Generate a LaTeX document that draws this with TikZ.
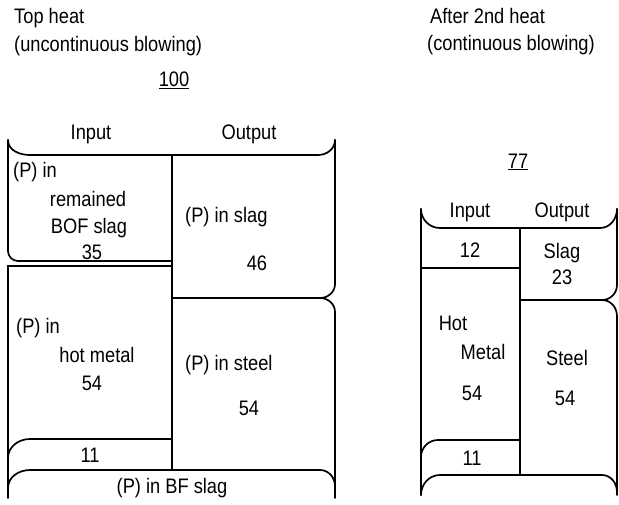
\documentclass[tikz,border=0pt]{standalone}
\usepackage{fontspec}
\setmainfont{Liberation Sans}[FakeStretch=0.87]

\tikzset{
	lbl/.style={font=\fontsize{21}{23}\selectfont, inner sep=0pt},
	frame/.style={line width=1.7pt, line cap=round}
}

\begin{document}
\begin{tikzpicture}[x=1pt, y=-1pt]
			\useasboundingbox (0,0) rectangle (619,504);

			\node[lbl, anchor=west] (tophd) at (14,18) {Top heat};
			\node[lbl, anchor=west] (topbl) at (14,46) {(uncontinuous blowing)};
			\node[lbl] (topval) at (174,80) {\underline{100}};
			\node[lbl] (lin) at (91,134) {Input};
			\node[lbl] (lout) at (249,134) {Output};
			\node[lbl, anchor=west] (bof1) at (13,172) {(P) in};
			\node[lbl] (bof2) at (88,199) {remained};
			\node[lbl] (bof3) at (89,228) {BOF slag};
			\node[lbl] (bof4) at (92,252) {35};
			\node[lbl, anchor=west] (lslag) at (185,217) {(P) in slag};
			\node[lbl] (lslagv) at (257,263) {46};
			\node[lbl, anchor=west] (hm1) at (16,328) {(P) in};
			\node[lbl] (hm2) at (97,355) {hot metal};
			\node[lbl] (hm3) at (92,383) {54};
			\node[lbl, anchor=west] (lsteel) at (185,365) {(P) in steel};
			\node[lbl] (lsteelv) at (249,408) {54};
			\node[lbl] (lbf) at (90,455) {11};
			\node[lbl] (lbfname) at (172,488) {(P) in BF slag};

			\node[lbl, anchor=west] (afthd) at (430,16) {After 2nd heat};
			\node[lbl, anchor=west] (aftbl) at (427,45) {(continuous blowing)};
			\node[lbl] (aftval) at (518,162) {\underline{77}};
			\node[lbl] (rin) at (470,212) {Input};
			\node[lbl] (rout) at (562,212) {Output};
			\node[lbl] (rin1) at (470,250) {12};
			\node[lbl] (rslag) at (562,253) {Slag};
			\node[lbl] (rslagv) at (562,277) {23};
			\node[lbl] (rhm1) at (453,323) {Hot};
			\node[lbl] (rhm2) at (483,352) {Metal};
			\node[lbl] (rhm3) at (472,393) {54};
			\node[lbl] (rsteel) at (567,358) {Steel};
			\node[lbl] (rsteelv) at (565,398) {54};
			\node[lbl] (rbf) at (472,458) {11};

			\draw[frame] (8,140) to[out=-90, in=180] (30,155) -- (318,155) to[out=0, in=-90] (335,140);
			\draw[frame, rounded corners=10pt] (8,140) -- (8,261) -- (172,261);
			\draw[frame] (172,266) -- (8,266) -- (8,498);
			\draw[frame] (172,155) -- (172,470);
			\draw[frame] (172,298) -- (320,298) to[out=0, in=-90] (335,284);
			\draw[frame] (320,298) to[out=0, in=90] (335,312);
			\draw[frame] (335,140) -- (335,284);
			\draw[frame] (335,312) -- (335,498);
			\draw[frame] (8,458) to[out=90, in=180] (30,439) -- (172,439);
			\draw[frame] (8,488) to[out=90, in=180] (30,470) -- (320,470) to[out=0, in=90] (335,486);

			\draw[frame] (421,209) to[out=-90, in=180] (440,228) -- (600,228) to[out=0, in=-90] (617,209);
			\draw[frame] (421,209) -- (421,495);
			\draw[frame] (520,228) -- (520,475);
			\draw[frame] (421,268) -- (520,268);
			\draw[frame] (520,300) -- (602,300) to[out=0, in=-90] (617,285);
			\draw[frame] (602,300) to[out=0, in=90] (617,316);
			\draw[frame] (617,209) -- (617,285);
			\draw[frame] (617,316) -- (617,495);
			\draw[frame] (421,457) to[out=90, in=180] (438,440) -- (520,440);
			\draw[frame] (421,495) to[out=90, in=180] (440,475) -- (602,475) to[out=0, in=90] (617,492);
		\end{tikzpicture}
\end{document}
